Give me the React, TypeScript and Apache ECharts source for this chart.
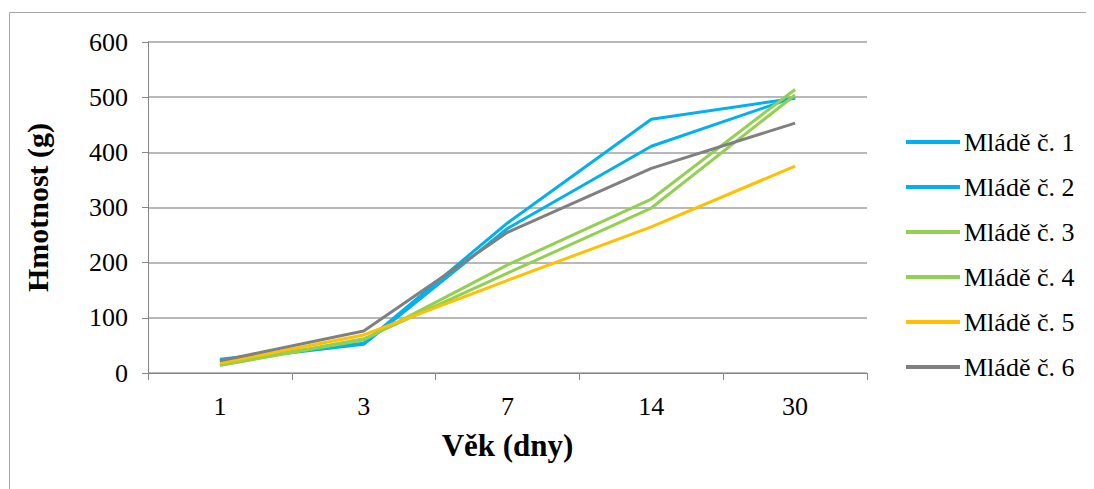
import React, { useEffect, useRef } from "react";
import * as echarts from "echarts";

const categories = ["1", "3", "7", "14", "30"];
const seriesNames = ["Mládě č. 1", "Mládě č. 2", "Mládě č. 3", "Mládě č. 4", "Mládě č. 5", "Mládě č. 6"];
const mlade1 = [25, 54, 272, 460, 498];
const mlade2 = [22, 52, 262, 411, 500];
const mlade3 = [14, 60, 196, 315, 514];
const mlade4 = [14, 62, 181, 299, 504];
const mlade5 = [18, 69, 168, 265, 375];
const mlade6 = [22, 76, 255, 371, 453];
const seriesValues = [mlade1, mlade2, mlade3, mlade4, mlade5, mlade6];
const colors = ["#00B0F0", "#00B0F0", "#92D050", "#92D050", "#FFC000", "#808080"];
const yTicks = { min: 0, max: 600, interval: 100 };

const FONT = "Liberation Serif";

export default function App() {
  const ref = useRef<HTMLDivElement>(null);
  useEffect(() => {
    if (!ref.current) return;
    const chart = echarts.init(ref.current, undefined, { renderer: "svg" });
    chart.setOption({
      animation: false,
      backgroundColor: "#ffffff",
      textStyle: { fontFamily: FONT, color: "#000" },
      grid: { left: 140, right: 227, top: 34, bottom: 116, containLabel: false },
      graphic: [
        { type: "line", shape: { x1: 1.5, y1: 4.5, x2: 1.5, y2: 489 }, style: { stroke: "#a6a6a6", lineWidth: 1 } },
        { type: "line", shape: { x1: 1.5, y1: 4.5, x2: 1094, y2: 4.5 }, style: { stroke: "#a6a6a6", lineWidth: 1 } },
      ],
      legend: {
        orient: "vertical",
        left: 893,
        top: 116,
        icon: "rect",
        itemWidth: 54,
        itemHeight: 4,
        itemGap: 19,
        textStyle: { fontFamily: FONT, fontSize: 26, color: "#000", lineHeight: 26, padding: [0, 0, 0, -1] },
        data: seriesNames,
      },
      xAxis: {
        type: "category",
        data: categories,
        boundaryGap: true,
        name: "Věk (dny)",
        nameLocation: "middle",
        nameGap: 57,
        nameTextStyle: { fontFamily: FONT, fontSize: 31, fontWeight: "bold", color: "#000" },
        axisLine: { lineStyle: { color: "#868686", width: 1 } },
        axisTick: { show: true, length: 7, lineStyle: { color: "#868686" } },
        axisLabel: { fontFamily: FONT, fontSize: 26, color: "#000", margin: 20 },
      },
      yAxis: {
        type: "value",
        min: yTicks.min,
        max: yTicks.max,
        interval: yTicks.interval,
        name: "Hmotnost (g)",
        nameLocation: "middle",
        nameGap: 96,
        nameRotate: 90,
        nameTextStyle: { fontFamily: FONT, fontSize: 30, fontWeight: "bold", color: "#000" },
        axisLine: { show: true, lineStyle: { color: "#868686", width: 1 } },
        axisTick: { show: true, length: 6, lineStyle: { color: "#868686" } },
        axisLabel: { fontFamily: FONT, fontSize: 26, color: "#000", margin: 20 },
        splitLine: { lineStyle: { color: "#a0a0a0", width: 1.5 } },
      },
      series: seriesNames.map((name, i) => ({
        name,
        type: "line",
        data: seriesValues[i],
        symbol: "none",
        color: colors[i],
        lineStyle: { color: colors[i], width: 3 },
      })),
    });
    return () => chart.dispose();
  }, []);
  return <div ref={ref} style={{ width: 1086, height: 481 }} />;
}
